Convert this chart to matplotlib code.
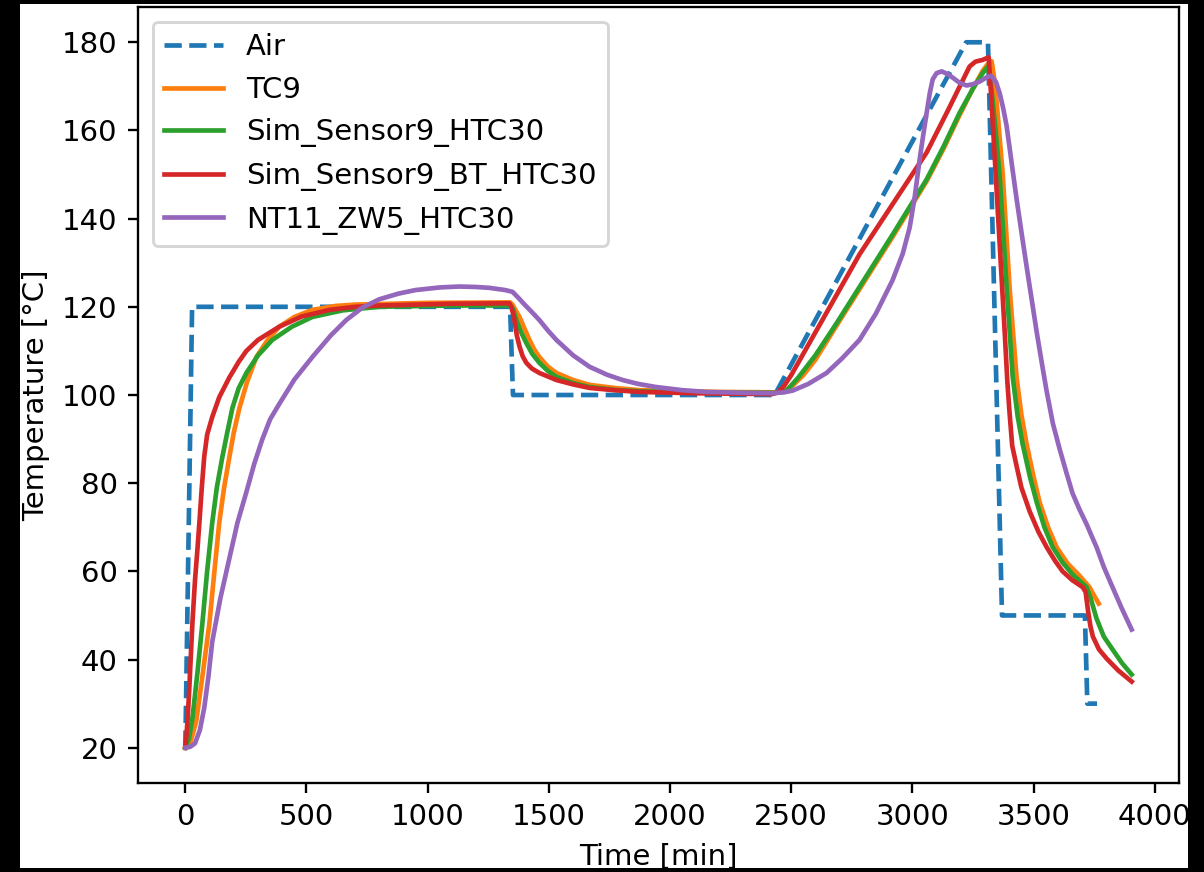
import matplotlib
matplotlib.use("Agg")
import matplotlib.pyplot as plt
from matplotlib.patches import Rectangle

# ---------------- data ----------------
air_t = [0, 28, 1340, 1352, 2432, 3222, 3312, 3370, 3712, 3722, 3762]
air_T = [20, 120, 120, 100, 100, 180, 180, 50, 50, 30, 30]

tc9_t = [0, 20, 45, 70, 99, 120, 140, 160, 182, 200, 223, 255, 293, 340, 388, 450,
         524, 620, 700, 1000, 1340,
         1350, 1360, 1379, 1400, 1420, 1440, 1461, 1495, 1531, 1600, 1668, 1770,
         1874, 2000, 2200, 2440,
         2470, 2500, 2550, 2600, 2690, 2782, 2920, 3059, 3130, 3195, 3250, 3290,
         3310, 3327,
         3340, 3350, 3373, 3401, 3430, 3450, 3471, 3500, 3525, 3560, 3595, 3640,
         3690, 3731, 3750, 3769]
tc9_T = [20, 21, 26, 36, 48, 60, 71, 79, 86, 91.5, 97, 103, 108.6, 112.5, 115.5, 117.7,
         119.3, 120.2, 120.5, 120.9, 121,
         120.5, 119.5, 117.7, 115, 112.5, 110.3, 108.6, 106.5, 105, 103.4, 102.3, 101.6,
         101.1, 100.9, 100.7, 100.6,
         100.8, 101.8, 104.5, 108, 116, 124, 136, 148.5, 156, 163.5, 169.5, 173.5,
         175, 175.7,
         171, 165, 150, 124.5, 104, 95.5, 89, 81.5, 75.7, 70, 65.5, 61.8,
         59, 56.4, 54.5, 52.7]

sim_t = [0, 15, 30, 50, 70, 90, 111, 130, 153, 175, 194, 220, 252, 300, 359, 440,
         524, 650, 800, 1100, 1342,
         1352, 1366, 1385, 1407, 1432, 1461, 1495, 1531, 1600, 1668, 1780, 1900,
         2200, 2440,
         2465, 2481, 2530, 2600, 2690, 2782, 2920, 3059, 3130, 3195, 3250, 3290,
         3312,
         3325, 3340, 3360, 3389, 3414, 3435, 3455, 3485, 3513, 3545, 3579, 3620,
         3661, 3719, 3735, 3760, 3790, 3826, 3865, 3905]
sim_T = [20, 22, 27, 37, 48, 60, 71, 79, 86, 92, 97, 101.5, 105, 109, 112.5, 115.5,
         117.7, 119.2, 120, 120.3, 120.3,
         119.5, 117, 114.3, 111.8, 109.3, 107.3, 105.5, 104.1, 102.7, 101.8, 101.1, 100.8,
         100.5, 100.5,
         100.7, 101, 104, 109, 116.5, 124.5, 136.5, 148.9, 156.5, 164, 169.5, 173,
         174.5,
         170, 162, 149.9, 124.5, 104.1, 95, 88.9, 81.5, 75.7, 70, 65.5, 62,
         59.3, 56.4, 54, 49.3, 45.2, 42.3, 39.2, 36.6]

bt_t = [0, 5, 10, 16, 22, 29, 40, 50, 58, 68, 78, 90, 111, 140, 182, 220, 252, 300,
        388, 480, 594, 700, 800, 1100, 1337,
        1345, 1352, 1358, 1368, 1379, 1392, 1407, 1430, 1461, 1531, 1600, 1668,
        1770, 1874, 2100, 2420,
        2445, 2470, 2500, 2782, 3059, 3150, 3236, 3260, 3290, 3315,
        3325, 3339, 3360, 3381, 3392, 3401, 3412, 3430, 3450, 3484, 3520, 3554,
        3590, 3620, 3660, 3703, 3715, 3725, 3735, 3745, 3770, 3802, 3850, 3905]
bt_T = [20, 23, 27, 33, 40, 48, 58, 65, 71, 79, 86, 91, 95, 99.5, 104, 107.5, 110, 112.5,
        115.5, 117.8, 119.3, 120, 120.3, 120.7, 120.8,
        120, 118.5, 117, 113.5, 111, 108.8, 107.3, 106, 105, 103.4, 102.4, 101.6,
        101.1, 100.7, 100.4, 100.2,
        100.6, 102, 104.5, 131.9, 155, 164.9, 174.5, 175.6, 176, 176.6,
        168, 154.8, 134.5, 114.3, 103, 96, 88.5, 83.9, 79, 73.6, 69, 65.5,
        62.3, 60, 58, 56.4, 55.3, 51, 47.5, 45.2, 42.3, 40.2, 37.5, 35]

nt_t = [0, 20, 40, 60, 78, 95, 111, 145, 182, 215, 252, 285, 318, 350, 388, 450,
        524, 600, 664, 730, 800, 880, 950, 1050, 1130, 1200, 1255, 1320, 1350,
        1375, 1400, 1430, 1461, 1495, 1531, 1600, 1668, 1740, 1804, 1870, 1944,
        2050, 2150, 2300, 2423, 2470, 2506, 2570, 2646, 2710, 2782, 2850, 2918,
        2960, 2989, 3010, 3030, 3045, 3059, 3072, 3084, 3100, 3121, 3145, 3166,
        3195, 3224, 3250, 3278, 3305, 3325, 3345, 3360, 3375, 3389, 3410, 3430,
        3450, 3471, 3492, 3513, 3535, 3554, 3580, 3608, 3635, 3661, 3690, 3719,
        3740, 3760, 3790, 3826, 3865, 3905]
nt_T = [20, 20.2, 21, 24, 29, 36, 44, 54, 63, 71, 78, 84.5, 90, 94.5, 98, 103.5,
        108.6, 113.5, 117, 119.8, 121.7, 123, 123.8, 124.4, 124.6, 124.5, 124.3, 123.8, 123.4,
        122, 120.5, 118.8, 117, 114.7, 112.5, 109, 106.4, 104.6, 103.4, 102.5, 101.8,
        101.1, 100.7, 100.5, 100.4, 100.6, 101, 102.5, 105, 108.3, 112.5, 118.5, 126,
        132, 138, 145, 153.4, 159, 164, 168.5, 171.6, 173, 173.4, 172.8, 172,
        170.8, 170.2, 170.5, 171.1, 172, 172.4, 171, 168.5, 165, 161, 152.5, 144.5,
        137, 129.3, 121.8, 114.3, 107, 100.9, 93.5, 87.7, 82.5, 77.7, 74, 70.7,
        68, 65.5, 61, 56.4, 51.5, 46.8]

labels = ["Air", "TC9", "Sim_Sensor9_HTC30", "Sim_Sensor9_BT_HTC30", "NT11_ZW5_HTC30"]

# ---------------- figure ----------------
DPI = 210
fig = plt.figure(figsize=(1204 / DPI, 872 / DPI), dpi=DPI, facecolor="black")
fig.patches.append(Rectangle((20 / 1204, 4 / 872), (1188 - 20) / 1204, (868 - 4) / 872,
                             transform=fig.transFigure, facecolor="white",
                             edgecolor="none", zorder=-10))

ax = fig.add_axes([138 / 1204, (872 - 783) / 872, (1179 - 138) / 1204, (783 - 7) / 872])
lw = 1.6
ax.plot(air_t, air_T, "--", color="C0", lw=lw, label=labels[0])
ax.plot(tc9_t, tc9_T, color="C1", lw=lw, label=labels[1])
ax.plot(sim_t, sim_T, color="C2", lw=lw, label=labels[2])
ax.plot(bt_t, bt_T, color="C3", lw=lw, label=labels[3])
ax.plot(nt_t, nt_T, color="C4", lw=lw, label=labels[4])

ax.set_xticks([0, 500, 1000, 1500, 2000, 2500, 3000, 3500, 4000])
ax.set_yticks([20, 40, 60, 80, 100, 120, 140, 160, 180])
ax.set_xlabel("Time [min]")
ax.set_ylabel("Temperature [°C]")
ax.legend(loc="upper left")

fig.savefig("out.png", dpi=DPI, facecolor=fig.get_facecolor())
